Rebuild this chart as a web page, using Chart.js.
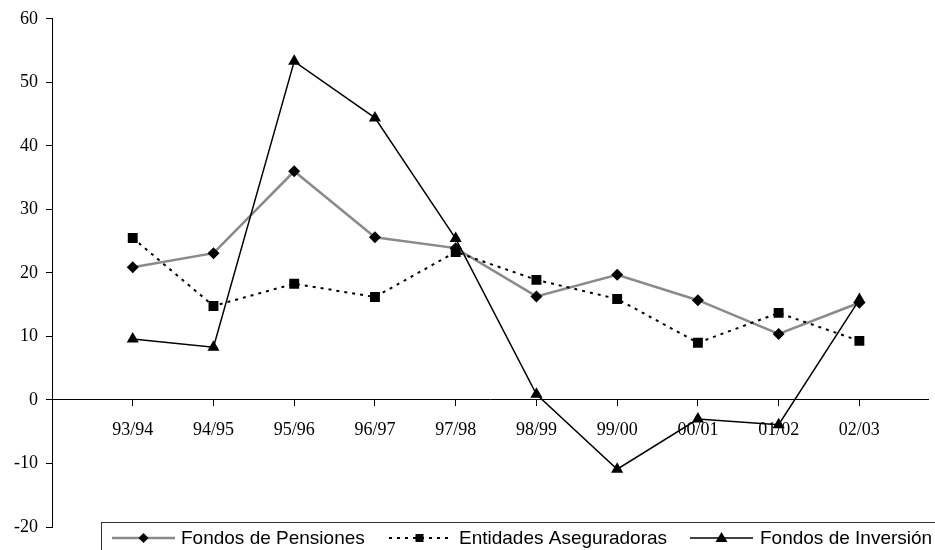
<!DOCTYPE html>
<html>
<head>
    <title>Fondos - variación anual</title>
    <script src="https://cdn.jsdelivr.net/npm/chart.js"></script>
    <style>
        html, body { margin: 0; padding: 0; background: #fff; }
        #wrap { width: 935px; height: 550px; position: relative; }
    </style>
</head>
<body>
    <div id="wrap">
        <canvas id="fondos-chart"></canvas>
    </div>

    <script>
        // categorias (campañas) y series
        const periodos = ['93/94', '94/95', '95/96', '96/97', '97/98', '98/99', '99/00', '00/01', '01/02', '02/03'];
        const pensiones = [20.9, 23.1, 36.0, 25.6, 23.9, 16.3, 19.7, 15.7, 10.4, 15.3];
        const aseguradoras = [25.5, 14.8, 18.3, 16.2, 23.3, 18.9, 15.9, 9.0, 13.7, 9.3];
        const inversion = [9.6, 8.3, 53.3, 44.4, 25.4, 0.9, -10.9, -3.0, -3.9, 15.8];
        const yTicks = [-20, -10, 0, 10, 20, 30, 40, 50, 60];

        function toPoints(arr) {
            return arr.map((v, i) => ({ x: i + 1, y: v }));
        }

        // legend drawn by hand: line + marker + text, inside a box
        const legendBox = {
            id: 'legendBox',
            afterDraw(chart) {
                const ctx = chart.ctx;
                ctx.save();
                ctx.strokeStyle = '#333';
                ctx.lineWidth = 1;
                ctx.strokeRect(101.5, 522.5, 840, 40);

                const y = 538;
                const items = [
                    { ds: 0, x0: 112, x1: 175, tx: 181 },
                    { ds: 1, x0: 389, x1: 450, tx: 459 },
                    { ds: 2, x0: 690, x1: 753, tx: 760 }
                ];
                items.forEach(it => {
                    const ds = chart.data.datasets[it.ds];
                    ctx.save();
                    ctx.strokeStyle = ds.borderColor;
                    ctx.lineWidth = ds.borderWidth;
                    ctx.setLineDash(ds.borderDash || []);
                    ctx.beginPath();
                    ctx.moveTo(it.x0, y);
                    ctx.lineTo(it.x1, y);
                    ctx.stroke();
                    ctx.restore();

                    const cx = (it.x0 + it.x1) / 2;
                    ctx.fillStyle = '#000';
                    ctx.beginPath();
                    if (ds.pointStyle === 'rectRot') {
                        ctx.moveTo(cx, y - 5); ctx.lineTo(cx + 5, y);
                        ctx.lineTo(cx, y + 5); ctx.lineTo(cx - 5, y);
                    } else if (ds.pointStyle === 'rect') {
                        ctx.rect(cx - 4, y - 4, 8, 8);
                    } else {
                        ctx.moveTo(cx, y - 6); ctx.lineTo(cx + 6, y + 4);
                        ctx.lineTo(cx - 6, y + 4);
                    }
                    ctx.closePath();
                    ctx.fill();

                    ctx.font = '19px "Liberation Sans", Arial, sans-serif';
                    ctx.textBaseline = 'middle';
                    ctx.fillText(ds.label, it.tx, y + 1);
                });
                ctx.restore();
            }
        };

        const ctx = document.getElementById('fondos-chart').getContext('2d');
        new Chart(ctx, {
            type: 'line',
            data: {
                datasets: [{
                    label: 'Fondos de Pensiones',
                    data: toPoints(pensiones),
                    borderColor: '#8a8a8a',
                    borderWidth: 2.5,
                    pointStyle: 'rectRot',
                    pointRadius: 6,
                    pointBackgroundColor: '#000',
                    pointBorderWidth: 0,
                    order: 3
                }, {
                    label: 'Entidades Aseguradoras',
                    data: toPoints(aseguradoras),
                    borderColor: '#000',
                    borderWidth: 2,
                    borderDash: [3, 5],
                    pointStyle: 'rect',
                    pointRadius: 7,
                    pointBackgroundColor: '#000',
                    pointBorderWidth: 0,
                    order: 2
                }, {
                    label: 'Fondos de Inversión',
                    data: toPoints(inversion),
                    borderColor: '#000',
                    borderWidth: 1.5,
                    pointStyle: 'triangle',
                    pointRadius: 7,
                    pointBackgroundColor: '#000',
                    pointBorderWidth: 0,
                    order: 1
                }]
            },
            options: {
                responsive: true,
                maintainAspectRatio: false,
                animation: false,
                events: [],
                layout: { padding: { top: 18, bottom: 23, right: 2, left: 0 } },
                plugins: {
                    legend: { display: false },
                    tooltip: { enabled: false }
                },
                scales: {
                    x: {
                        type: 'linear',
                        position: { y: 0 },
                        min: 0,
                        max: 10.85,
                        afterBuildTicks: s => { s.ticks = periodos.map((p, i) => ({ value: i + 1 })); },
                        ticks: {
                            autoSkip: false,
                            maxRotation: 0,
                            padding: 14,
                            color: '#000',
                            font: { family: '"Liberation Serif", "Times New Roman", serif', size: 18 },
                            callback: v => periodos[v - 1] || ''
                        },
                        grid: { drawOnChartArea: false, tickLength: 6, tickColor: '#000' },
                        border: { color: '#000', width: 1 }
                    },
                    y: {
                        min: -20,
                        max: 60,
                        afterFit: s => { s.width = 52; },
                        afterBuildTicks: s => { s.ticks = yTicks.map(v => ({ value: v })); },
                        ticks: {
                            padding: 8,
                            color: '#000',
                            font: { family: '"Liberation Serif", "Times New Roman", serif', size: 18 }
                        },
                        grid: { drawOnChartArea: false, tickLength: 6, tickColor: '#000' },
                        border: { color: '#000', width: 1 }
                    }
                }
            },
            plugins: [legendBox]
        });
    </script>
</body>
</html>
